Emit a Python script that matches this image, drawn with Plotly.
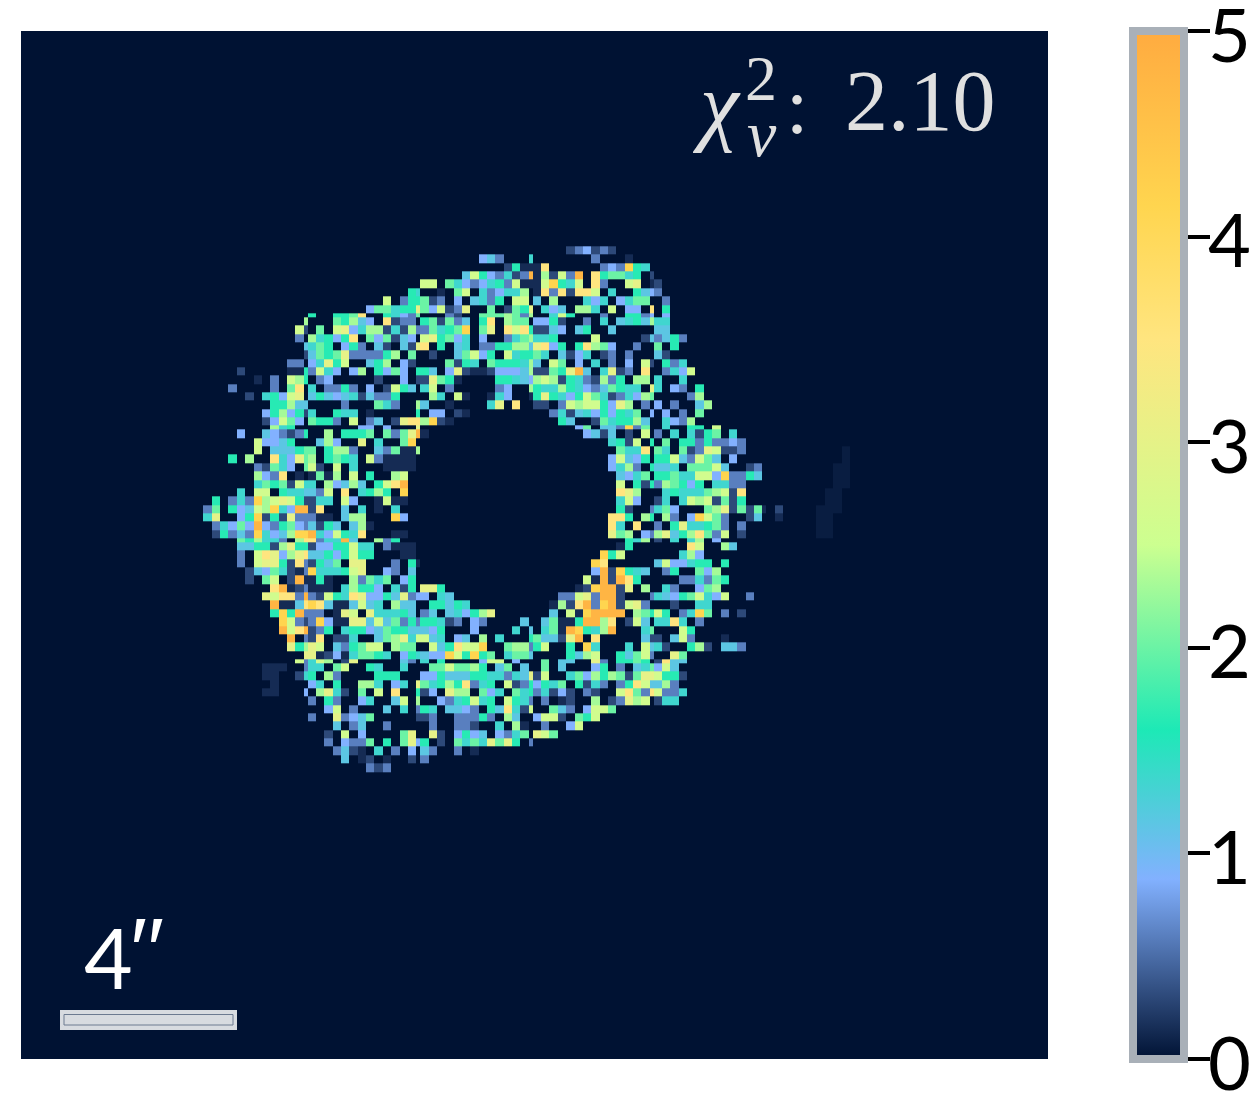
import plotly.graph_objects as go

# colour levels, value per letter
levels = {"y": 0.06, "z": 0.14, "a": 0.3, "b": 0.6, "c": 0.875, "e": 1.15, "f": 1.35, "g": 1.65,
          "h": 2.0, "i": 2.3, "j": 2.6, "k": 3.0, "l": 3.5, "m": 4.15, "n": 4.8}

# the map was resampled, so every 13 or 14 cells there is a thin one
col_blocks = [("A", 13), ("N1", 1), ("B", 13), ("N2", 1), ("C", 13), ("N3", 1), ("D", 14), ("N4", 1),
              ("E", 13), ("N5", 1), ("F", 10)]
row_blocks = [8, 1, 13, 1, 13, 1, 14, 1, 13]

# one string per row, top to bottom, "column+level" for every non empty cell
cell_rows = [
    "D4a D5b D6c D7a D8b D9a",
    "C7c C8e C9b N3f D7b D11z",
    "C10a C11g C12z N3z D0z D1l D8b D9c D10b D11m D12g D13f",
    "C5e C6j C7g C8c C9b C10f C11a C12b N3n D0z D1i D2a D3j D4b D5n D7l D8g D9h D10h D11f D12g N4a",
    "C0j C1j C3h C4f C5c C6b C7c C8f C9g C10b C11j C12z N3z D0z D1j D2m D3g D4f D5j D7l D8b D11j D12k N4z E0a",
    "B12g N2f C2z C4h C5j C7f C8b C9c C10f C11f C12i D0z D1l D2b D3l D4a D5l D6l D7j D9f D12g D13e N4c E0b",
    "B9j B11b B12g N2g C0h C1a C2b C4c C6e C7f C8b C9g C11j C12j D0e D2i D6f D7c D8f D10c D11f D12h D13h E1b",
    "B7c B8h B9h B10f B11g B12g N2k C0h C1c C2j C3a C4b C5k C8h C10a C11h C12g N3k D1f D2c D3e D5i D6i D7f D9j D11c D12c N4l E1g",
    "B0g B3g B4g B5h B6l B9g B10f B11c B12b N2h C3b C4a C7h C8h C9h C10i C11h C12b N3i D2f D3j D4g D8b D11g D12g D13b N4c E1c",
    "N1i B3h B4g B5i B6e B7c B9l B10a B11b B12b C0g C1h C2a C3h C4b C5e C7g C8l C10i C11h C12h D0c D1c D2g D3a D6b D8f D10e D11f D12g D13e N4i E0f E1f",
    "A12j N1a B1h B3j B4k B5c B6f B7i B8i B9a B10f B11a B12i N2b C0b C1h C2f C3g C4h C5m C7h C8k C10l C11j C12l N3g D0a D1a D2e D3c D5e D6g D9e E0e E1e",
    "A12b B0i B1f B2g B3c B4g B5l B7h B8c B9h B10a B11e B12c C0j C1k C2g C3h C4c C5f C7c C10b C11f C12h N3i D0f D1f D2g D7j D13a N4e E0b E1e E2g E3b",
    "N1e B0f B1h B2g B4c B5g B6b B8e B9a B11e B12a N2k C0l C2g C4e C5f C7b C8b C9g C10g C11i C12i N3e D0k D1l D2c D3g D5g D6l D7i D8h D9c D12b E0h E2g",
    "N1a B0e B1h B2g B3h B4k B5b B6b B7b B8b B9g B10i B12h C1a C4e C5h C6j C7c C8g C10j C11f C12g N3g D0h D1f D3e D4a D5c D6f D8a D9b D11b E0e E1a",
    "A11b A12b B0c B1f B2k B3g B4j B7e B8g B9i B11c B12a C3h C4a C5g C6f C8h C9g C10g C11g C12f N3i D0e D2j D3h D5c D7f D9b D11c D13j N4a E1g E2b E3f",
    "A5a A11z A12z N1g B0b B1j B2f B3c B5c B6i B8g B9c B10h B11c N2g C0g C1e C3c C4k C5a C6z C7z C8a C9c C10c C11c C12e N3i D0a D1a D2h D3g D4k D5n D6e D8f D9k D10a D11b D13l E1b E2f E3c E4j",
    "A7z A9b A11j A12i N1g B1b B2c B8a B11c N2a C0a C1k C2h C3g C4z C9g C10g C11f C12e N3c D0i D1j D2i D3a D4g D5f D6b D7a D8i D9b D10g D12i D13i E0f E3f",
    "A4b A9b A11h A12l B0f B2b B3b B4g B5b B7c B9a B10j B11g B12e C0f C1j C3b C9b C10c N3i D0g D1f D2f D3i D4g D5f D6c D7b D8e D9h D10g D11f D12f N4k E0f E2c E3b E5g",
    "A6a A8f A9g A10c A11j A12k B0e B1g B2e B3c B4e B5f B6a B7e B8b B9b B10g C1i C2f C4j C5z C8z C9f C10c N3z D0g D1k D2g D3f D4c D5g D6j D7h D8f D9a D10b D11f D12c D13i N4h E4b E5i",
    "A9g A10g A11i A12e N1e B4b B8h B9f B10b N2i C0e C3z C8f C9k C11l D0a D1a D3b D4j D5i D6j D7j D8g D9c D10k D11i D13b E0c E2b E5e E6i",
    "A8c A9g A10i A11c A12g N1a B0f B3g B4f B5f B7z N2g C1c C2c C4a C5z D2b D3f D4a D5e D6f D7c D8g D9c D10g D11f D12h N4c E1c E3b E5h",
    "A8a A9c A10j A11h A12c B0h B1g B2g B3b B5j B7b B8e B10a B11k B12l N2l C0i C1m C2a C3z D3g D4e D7a D8h D9f D10g D11g D12i D13e E1f E2c E3b E4i",
    "A9i A10f A11g B6c B7c B9c N2k D5c D6h D8e D9e D10b D11m D12b D13h E1f E4g E5g E7j",
    "A5c A8e A9c A10b A11a A12b N1g B2i B4g B5g B6g B7h B9h B10b B11h B12k N2n C0z D6c D7e D8a D9e D11a D13j E0b E2f E4f E5a E6g E7h E9f",
    "A7j A8c A9c A10e A11g B1e B2i B3c B6k B8f B11h B12m D9f D10g D11a D12j N4g E1h E3g E4g E5b E6g E7b E8b E9c E10b",
    "A7j A9e A10e A11e A12g N1h B0h B2g B3i B4i B5b B8e B9b B10h B11z B12z N2i D10h D11f D12f D13l E0h E1f E3h E4a E5b E6k E7j E8a E9a E10b F9y",
    "A4g A6i A9l A10f A11c A12k N1h B0i B2g B3h B4g B5f B7j B8b B9z B10z B11z B12z D9c D10j D11e D12c D13g E0g E1g E2j E3e E4b E5j E6h E7e E9c F9y",
    "A7b A8a A9h A10f A11c N1h B0j B1a B3j B5f B9z B10z B11z B12z D9c D10f D11i D12b N4g E0e E1e E2f E4h E5h E6h E7j E8e E11a E12b F8y F9y",
    "A7i A8c A9b A10l A12z B0z B1h B2z B3i B5j B7g B10i B11j D10e D11c D12f D13h E0g E1g E2h E3f E4f E5j E6j E7c E8m E9b E10b E11g E12e F8y F9y",
    "A7f A8h A9g A10h A11a A12j N1f B0f B2i B3c B4e B5i B6e B8g B9j B10l B11n D10j D12g D13a N4g E0b E1i E2h E3g E4c E5g E7f E8f E9b E10b F8y F9y",
    "A5f A7j A8j A10g A11f A12f N1e B0e B1b B2j B4l B6f B7g B8i B9g B11m D10l D11k D12i E1f E2g E3f E4f E5f E6h E7i E8j E9a E10l F7y F8y",
    "A2g A4b A5f A6b A7m A8i A9j A10k A11j A12g N1a B0a B1f B2f B4j B5c B8z B9j B10z B11z D10f D11j D12c E0a E1f E3f E4j E5i E6j E7a E8h E9a E10g F7y F8y",
    "A1b A2h A4g A5c A6e A7j A8i A9m A10f A11c A12n N1n B0a B1l B4e B6f B8z B10f D10g D11a N4b E0f E1h E2c E6h E7i E8k E9a E10h E11a E12h N5z F1a F6y F7y F8y",
    "A1f A2k A5c A6g A7m A8a A9g A10a A11k A12b N1b B0b B1z B2z B4e B5i B6i B10m B11c D9l D10l D11g D13i N4g E1i E2b E4c E5m E6j E7h E8b E11a E12e F1z F6y F7y",
    "A2b A3f A4c A5h A6c A7n A8c A9b A10g A11h A12c N1b B0e B1a B2g B3e B5e B6i B7z D9l D10f D12l E0b E2g E3k E4f E5f E6g E7h E8b E10b F6y F7y",
    "A2a A3g A4b A5e A6b A7m A8f A9c A10e A11i A12m N1m B0n B1f B2c B3j B4g B5f B6l B10z B11z D9k D10h D11i D13c N4b E0i E1k E2e E3g E4i E5l E6h E7b E8j E10a F6y F7y",
    "A5h A6g A7i A8f A9f A10b A12i N1l B0l B1b B2f B3f B4n B5e B8i B9b B10g D11g D12f D13i E0a E2f E4f E5i E7c",
    "A5e A6e A7g A8g A9a A10i A11k A12g N1g B0a B1c B2c B3g B4g B5j B6f B7f B9b B10z B11z B12z D10z D11g E4l E5j E8i E9e",
    "A5b A7j A8l A9k A10c A11i A12k N1l B0e B1e B2g B3c B4g B5j B6g B7g B11z B12z D8m D9g D10j E3f E4i E5c",
    "A5b A7j A8k A9k A10g A11a A12l N1b B0a B1g B2e B3h B5k B6k B10b B12g N2z D7m D8l E0e E1j E2c E3c E4f E5g E6g E8g",
    "A6a A7e A8c A9h A10f A11a A12z N1b B0m B1f B2f B3f B4g B5j B6k B9c B10b B12e D7c D8n D9a D10m D11g D12f D13e E1b E2g E5h E6c E7i",
    "A6a A8h A9j A11a A12n N1z B0z B1g B2z B5i B6b B7h B8f B9h B11c B12g D6j D7z D8n D9a D10n D11l D12g E3b E4b E5f E6b E7h E8g",
    "A9l A10n A11z A12a N1b B0z B1z B2z B4f B5i B6g B7g B8c B10f B11a B12g C0k C1k C2g D5z D6a D7m D8n D9n D10a D11k D13i E1f E2b E5c E6h E7i",
    "A8k A9j A10l A11l A12b N1n B0b B1a B2j B3g B4f B5l B6k B7c B8c B9g B10e B11k B12b N2c C0c C2f C3e D3b D4b D5j D6k D7b D8n D9n D10a N4b E0f E1e E2c E3g E4h E5j E6f E7c E8j E11b",
    "A9n A10z A11z A12e N1l B0m B1l B2e B3z B4z B5e B6j B7e B8f B10i B11e B12e C1g C2g C3e C4g C5f D2z D3i D4a D5l D6n D7b D8m D9n D10a D11j D12k D13b E2a E5f E6f",
    "A9g A10m A11g A12n N1b B0b B1b B3z B4k B5j B7k B8f B9f B10f B11g B12e C0b C1e C3e C4f C5c C6g C7i C8k D2e D4j D5z D6m D7n D8n D9n D10n D12i D13h N4g E0j E1g E3b E4f E5m E6h E8b E10a",
    "A10m A11j A12b N1a B0b B1m B2c B3z B4z B5k B6k B7e B8j B9e B10h B11b B12g N2b C0g C1g C2f C3a C4b C6c C7b C12e D1e D2h D3z D4z D5g D6n D7n D8i D9l D11a D12j D13e E0f E1f E2l E3f E5b",
    "A10n A11j A12l N1n B0a B1b B2g B4f B5g B6g B7c B8e B9h B10g B11g B12e N2e C0e C1c C2g C6c C11f N3e D1f D2h D3z D4n D5m D6g D7f D8i D9n D13f N4h E3j E4g",
    "A11n N1b B0a B1l B3a B4a B5f B8e B9h B10i B11k B12f N2j C0j C1e C2f C4c C5e C7i C9f N3g D0h D1e D2e D3a D4k D5n D7l D13e N4a E0a E2e E3j E4b E8z",
    "A11k A12g N1i B0k B1j B3e B4b B5g B6h B7j B8j B10i B11h B12h C1j C2e C3g C4l C5j C6j C7m C10h C11i C12i N3b D0g D1j D4g D6m D7f D11f D13j N4e E0f E1a E4g E5i E6a E8e E9e E10b",
    "N1k B0k B1z B2a B3c B4z B5f B6h B7h B8g B9f B11c B12g N2f C0e C1c C2c C3m C4j C5g C6m C7g C8h C10f C11h C12h N3e D4g D5e D6i D7j D10g D11e D12h D13j N4b E2k E3h",
    "A12j N1b B0f B1j B2i B4a B5k B11e B12b C0f C2g C7c C8j C9j C11c D1h D3e D4e D7k D8b D10g D11g D12h D13g E0a E1l E2e E3e",
    "A8z A9z A10z N1b B0f B1f B3h B4j B7g B8f B11f C1h C2h C3j C4h C5h C6i C7g C9e C10h C12e D1h D3e D7c D8g D10b D12e D13f N4h E0c E1j E2e",
    "A8z A9z A12a N1f B0g B2i B3b B8g B9g B10g C0c C1c C2g C3e C4e C5e C6g C7g C8f C9f C10b C11f C12e N3k D0a D1j D4f D5h D6c D7i D8g D9i D10h D11a D12h D13k N4k E0j E1g E2g E3a",
    "A9z B0c B1f B3g B6i B7i B8f B10c B11f N2k C0h C1f C2g C3i C4g C5l C6b C7f C8g C10j C11a C12b N3g D0c D1g D2f D3h D5g D6a D7f D8b D10b D11g D12l D13j N4e E0e E1i E2b",
    "A8z A9z N1c B1i B2k B3f B4a B6h B8j B10l N2g C0a C1c C3k C4i C5i C7h C8c C9f C11h C12f N3g D0b D1f D2a D3c D4a D6b D7a D10j D11l D12h D13b N4l E0j E1b E2b E3f",
    "B0b B2g B3b B6c B7f B10e B11j N2i C2c C3b C4f C5g C6j C7f C8g C10j C11g C12f N3b D1b D3z D4a D7i D9a D10b D11k D12i D13j E0a E1f E2f",
    "B2c B3j B5b B9e B11f N2b C0g C1f C3e C4e C5c C6b C8g C9e C10l C11f C12a N3j D2h D3e D4b D6c D7j D8j D9h",
    "B0b B3k B4b B5c B6e B7h N2a C0a C1b C4b C5b C6b C7g C8b C10i C11e D0c D1j D2j D3a D5h D6g D7j",
    "B3e B5b B6e B9b C1b C4b C5b C6a C9f C11i C12z D1b D4c D5j",
    "B2a B4j B6c B11h B12k C1k C2a C4c C5g C6c C7e C9c C10b C11f C12h D0k D1j D2h",
    "B2b B4c B5b B6b B7h B9g B11h B12k N2c C0g C2a C4h C5f C6h C7f C8k C9h C10k C11g N3b",
    "B3b B4e B5a B6z B8f B10b B12c C0e C1b C4b C6z",
    "B4e B6z B7a B9z B12a C0b",
    "B7b B8a B9b",
]

colorscale = [[0, "#001233"], [0.175, "#82b1ff"], [0.32, "#1de9b6"], [0.5, "#ccff90"],
              [0.7, "#ffe57f"], [0.83, "#ffd54f"], [1, "#ffab40"]]
tick_vals = [0, 1, 2, 3, 4, 5]

CELL = 8.36
THIN = 3.9
PLOT_W = 1027
PLOT_H = 1028


def edges(start, counts):
    out = [start]
    for n in counts:
        for _ in range(n):
            out.append(out[-1] + (THIN if n == 1 else CELL))
    return out


col_names = []
for name, n in col_blocks:
    if n == 1:
        col_names.append(name)
    else:
        col_names += [name + str(i) for i in range(n)]
col_index = {name: i for i, name in enumerate(col_names)}

z = []
for row in cell_rows:
    vals = [0.0] * len(col_names)
    for cell in row.split():
        vals[col_index[cell[:-1]]] = levels[cell[-1]]
    z.append(vals)

x_edges = edges(195.0, [n for _, n in col_blocks])
y_edges = edges(246.3, row_blocks)

fig = go.Figure()
fig.add_trace(go.Heatmap(
    z=z, x=x_edges, y=y_edges, zmin=0, zmax=5, colorscale=colorscale, hoverinfo="skip",
    colorbar=dict(
        x=(1133 - 21) / PLOT_W, xanchor="left", xpad=0, y=0.5, yanchor="middle", ypad=0, len=1,
        thickness=51, outlinewidth=8, outlinecolor="#a9b0b8",
        tickmode="array", tickvals=tick_vals, ticks="outside", ticklen=22, tickwidth=4,
        tickcolor="black", showticklabels=False,
    ),
))

# scale bar
fig.add_shape(type="rect", x0=60, x1=237, y0=1010, y1=1030, fillcolor="#d8dbe0", line_width=0)
fig.add_shape(type="rect", x0=64, x1=233, y0=1014.5, y1=1025, fillcolor="#d8dbe0",
              line=dict(color="#6c7a90", width=1))


def label(x, y, text, size, color="#e0e0e0", family="Liberation Serif", italic=False):
    if italic:
        text = "<i>" + text + "</i>"
    fig.add_annotation(x=x, y=y, text=text, showarrow=False, xanchor="left", yanchor="middle",
                       font=dict(family=family, size=size, color=color))


label(690, 104, "χ", 88, italic=True)
label(743, 78, "2", 64)
label(745, 133, "ν", 66, italic=True)
label(784, 106, ":", 80)
label(843, 101, "2.10", 86)
label(82, 956, "4", 84, color="white", family="Lato")
label(124, 951, "′′", 90, color="white", family="Liberation Sans", italic=True)

# colour bar numbers, the native labels sit too far from the ticks
for t in tick_vals:
    fig.add_annotation(xref="paper", yref="paper", x=(1206 - 21) / PLOT_W, y=t / 5, yshift=-2,
                       text=str(t), showarrow=False, xanchor="left", yanchor="middle",
                       font=dict(family="Lato", size=74, color="black"))

fig.update_xaxes(range=[21, 1048], visible=False)
fig.update_yaxes(range=[1059, 31], visible=False)
fig.update_layout(
    width=1252, height=1108, paper_bgcolor="white", plot_bgcolor="#001233",
    margin=dict(l=21, r=204, t=31, b=49, autoexpand=False), showlegend=False,
)

fig.write_html("out.html", config={"displayModeBar": False}, post_script="document.body.style.margin='0';")
